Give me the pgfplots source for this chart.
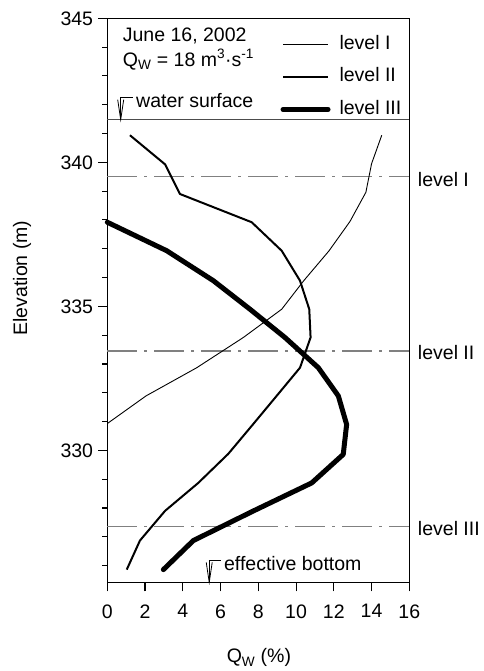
\documentclass[border=0pt]{standalone}
\usepackage{fontspec}
\setmainfont{Liberation Sans}
\usepackage{pgfplots}
\pgfplotsset{compat=1.18}
\definecolor{refgray}{RGB}{128,128,128}
\begin{document}
\fontsize{19.5}{23}\selectfont
\begin{tikzpicture}
\begin{axis}[
  name=ax,
  scale only axis,
  width=302pt, height=564pt,
  xmin=0, xmax=16, ymin=325.42, ymax=345,
  xtick={0,2,...,16},
  ytick={330,335,340,345},
  minor ytick={326,327,328,329,331,332,333,334,336,337,338,339,341,342,343,344},
  tick align=outside,
  xtick pos=bottom, ytick pos=left,
  major tick length=9pt, minor tick length=5pt,
  every tick/.style={black, line width=1.1pt},
  axis line style={line width=1.3pt},
  font=\fontsize{19.5}{23}\selectfont,
  /pgf/number format/assume math mode=true,
  xticklabel style={inner sep=0pt, yshift=-13pt},
  yticklabel style={inner sep=0pt, xshift=-5pt},
  xlabel={Q\textsubscript{W} (\%)},
  ylabel={Elevation (m)},
  xlabel style={at={(axis description cs:0.502,-0.143)}, anchor=base, inner sep=0pt},
  ylabel style={at={(axis description cs:-0.282,0.5395)}, anchor=center, inner sep=0pt},
  clip=false,
  legend cell align=left,
  legend image code/.code={\draw[#1] (0pt,0pt) -- (45pt,0pt);},
  legend style={draw=none, fill=none, inner sep=0pt, at={(0.573,0.970)}, anchor=north west,
    row sep=14.5pt, nodes={inner sep=0pt, text height=14pt, text depth=4pt},
    /tikz/every odd column/.append style={column sep=9pt}},
]
% reference lines
\addplot[forget plot, black!70, line width=0.8pt] coordinates {(0,341.48) (16,341.48)};
\addplot[forget plot, refgray, line width=1.5pt, dash pattern=on 30pt off 7pt on 3pt off 7pt] coordinates {(0,339.5) (16,339.5)};
\addplot[forget plot, refgray, line width=1.5pt, dash pattern=on 30pt off 7pt on 3pt off 7pt] coordinates {(0,333.45) (16,333.45)};
\addplot[forget plot, refgray, line width=1.5pt, dash pattern=on 30pt off 7pt on 3pt off 7pt] coordinates {(0,327.35) (16,327.35)};
% level I
\addplot[black, line width=0.9pt, line join=round] coordinates {
 (14.54,340.94) (14.00,339.95) (13.70,338.96) (12.86,337.95) (11.75,336.93) (10.42,335.90)
 (9.24,334.90) (7.21,333.92) (4.74,332.87) (2.05,331.89) (0,330.93)};
\addlegendentry{level I}
% level II
\addplot[black, line width=2pt, line join=round] coordinates {
 (1.20,340.94) (3.06,339.93) (3.85,338.90) (7.65,337.92) (9.24,336.93) (10.21,335.89)
 (10.70,334.90) (10.77,333.92) (10.21,332.87) (8.97,331.89) (7.74,330.92) (6.41,329.88)
 (4.82,328.87) (3.06,327.90) (1.73,326.87) (1.03,325.86)};
\addlegendentry{level II}
% level III
\addplot[black, line width=5pt, line join=round, line cap=round] coordinates {
 (0,337.92) (3.15,336.93) (5.62,335.89) (7.56,334.90) (9.41,333.92) (11.18,332.87)
 (12.24,331.89) (12.68,330.90) (12.50,329.86) (10.83,328.87) (7.75,327.90) (4.56,326.87)
 (2.97,325.86)};
\addlegendentry{level III}
% annotations
\node[anchor=base west, inner sep=0pt] at (axis cs:0.816,344.19) {June 16, 2002};
\node[anchor=base west, inner sep=0pt] at (axis cs:0.816,343.34) {Q\textsubscript{W} = 18 m\textsuperscript{3}·s\textsuperscript{-1}};
\node[anchor=base west, inner sep=0pt] at (axis cs:1.52,341.92) {water surface};
\node[anchor=base west, inner sep=0pt] at (axis cs:6.18,325.82) {effective bottom};
\node[anchor=west, inner sep=0pt] at (axis cs:16.45,339.4) {level I};
\node[anchor=west, inner sep=0pt] at (axis cs:16.45,333.4) {level II};
\node[anchor=west, inner sep=0pt] at (axis cs:16.45,327.3) {level III};
% water surface symbol
\draw[black, line width=0.8pt] (axis cs:0.71,341.48) -- ++(0pt,22pt) -- ++(12pt,0pt);
\draw[black, line width=0.8pt] ([shift={(-3pt,20pt)}]axis cs:0.71,341.48) -- (axis cs:0.71,341.48) -- ([shift={(3pt,20pt)}]axis cs:0.71,341.48);
% effective bottom symbol
\draw[black, line width=0.8pt] (axis cs:5.4,325.42) -- ++(0pt,22pt) -- ++(12pt,0pt);
\draw[black, line width=0.8pt] ([shift={(-3pt,20pt)}]axis cs:5.4,325.42) -- (axis cs:5.4,325.42) -- ([shift={(3pt,20pt)}]axis cs:5.4,325.42);
\end{axis}
\path ([shift={(-107.3pt,-88.7pt)}]ax.south west) rectangle ++(483pt,671pt);
\end{tikzpicture}
\end{document}
